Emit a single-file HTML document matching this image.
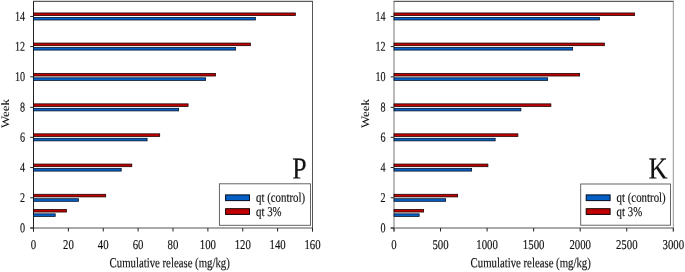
<!DOCTYPE html>
<html><head><meta charset="utf-8"><title>Cumulative release</title>
<style>
html,body{margin:0;padding:0;background:#fff;}
body{width:685px;height:272px;overflow:hidden;}
svg{display:block;will-change:transform;}
text{font-family:"Liberation Serif",serif;text-rendering:geometricPrecision;fill:#111;stroke:#111;stroke-width:0.16px;}
</style></head><body>
<svg width="685" height="272" viewBox="0 0 685 272">
<rect x="0" y="0" width="685" height="272" fill="#fff"/>
<line x1="33.0" y1="1.3" x2="313.0" y2="1.3" stroke="#333" stroke-width="1"/>
<line x1="30.2" y1="228.0" x2="313.0" y2="228.0" stroke="#555" stroke-width="1"/>
<line x1="312.5" y1="1.3" x2="312.5" y2="231.5" stroke="#444" stroke-width="0.9"/>
<line x1="33.5" y1="1.3" x2="33.5" y2="231.5" stroke="#222" stroke-width="1"/>
<line x1="30.2" y1="228.00" x2="33.5" y2="228.00" stroke="#222" stroke-width="1"/>
<text transform="translate(25.0,232.25) scale(0.755,1) skewY(0.05)" text-anchor="end" font-size="13.4">0</text>
<line x1="30.2" y1="197.77" x2="33.5" y2="197.77" stroke="#222" stroke-width="1"/>
<text transform="translate(25.0,202.02) scale(0.755,1) skewY(0.05)" text-anchor="end" font-size="13.4">2</text>
<line x1="30.2" y1="167.55" x2="33.5" y2="167.55" stroke="#222" stroke-width="1"/>
<text transform="translate(25.0,171.80) scale(0.755,1) skewY(0.05)" text-anchor="end" font-size="13.4">4</text>
<line x1="30.2" y1="137.32" x2="33.5" y2="137.32" stroke="#222" stroke-width="1"/>
<text transform="translate(25.0,141.57) scale(0.755,1) skewY(0.05)" text-anchor="end" font-size="13.4">6</text>
<line x1="30.2" y1="107.35" x2="33.5" y2="107.35" stroke="#222" stroke-width="1"/>
<text transform="translate(25.0,111.60) scale(0.755,1) skewY(0.05)" text-anchor="end" font-size="13.4">8</text>
<line x1="30.2" y1="76.87" x2="33.5" y2="76.87" stroke="#222" stroke-width="1"/>
<text transform="translate(25.0,81.12) scale(0.755,1) skewY(0.05)" text-anchor="end" font-size="13.4">10</text>
<line x1="30.2" y1="46.55" x2="33.5" y2="46.55" stroke="#222" stroke-width="1"/>
<text transform="translate(25.0,50.80) scale(0.755,1) skewY(0.05)" text-anchor="end" font-size="13.4">12</text>
<line x1="30.2" y1="16.45" x2="33.5" y2="16.45" stroke="#222" stroke-width="1"/>
<text transform="translate(25.0,20.70) scale(0.755,1) skewY(0.05)" text-anchor="end" font-size="13.4">14</text>
<line x1="33.50" y1="228.0" x2="33.50" y2="231.5" stroke="#222" stroke-width="1"/>
<text transform="translate(33.50,248.95) scale(0.8,1) skewY(0.05)" text-anchor="middle" font-size="13.5">0</text>
<line x1="68.38" y1="228.0" x2="68.38" y2="231.5" stroke="#222" stroke-width="1"/>
<text transform="translate(68.38,248.95) scale(0.8,1) skewY(0.05)" text-anchor="middle" font-size="13.5">20</text>
<line x1="103.25" y1="228.0" x2="103.25" y2="231.5" stroke="#222" stroke-width="1"/>
<text transform="translate(103.25,248.95) scale(0.8,1) skewY(0.05)" text-anchor="middle" font-size="13.5">40</text>
<line x1="138.12" y1="228.0" x2="138.12" y2="231.5" stroke="#222" stroke-width="1"/>
<text transform="translate(138.12,248.95) scale(0.8,1) skewY(0.05)" text-anchor="middle" font-size="13.5">60</text>
<line x1="173.00" y1="228.0" x2="173.00" y2="231.5" stroke="#222" stroke-width="1"/>
<text transform="translate(173.00,248.95) scale(0.8,1) skewY(0.05)" text-anchor="middle" font-size="13.5">80</text>
<line x1="207.88" y1="228.0" x2="207.88" y2="231.5" stroke="#222" stroke-width="1"/>
<text transform="translate(207.88,248.95) scale(0.8,1) skewY(0.05)" text-anchor="middle" font-size="13.5">100</text>
<line x1="242.75" y1="228.0" x2="242.75" y2="231.5" stroke="#222" stroke-width="1"/>
<text transform="translate(242.75,248.95) scale(0.8,1) skewY(0.05)" text-anchor="middle" font-size="13.5">120</text>
<line x1="277.62" y1="228.0" x2="277.62" y2="231.5" stroke="#222" stroke-width="1"/>
<text transform="translate(277.62,248.95) scale(0.8,1) skewY(0.05)" text-anchor="middle" font-size="13.5">140</text>
<line x1="312.50" y1="228.0" x2="312.50" y2="231.5" stroke="#222" stroke-width="1"/>
<text transform="translate(312.50,248.95) scale(0.8,1) skewY(0.05)" text-anchor="middle" font-size="13.5">160</text>
<rect x="33.5" y="209.39" width="33.00" height="2.65" fill="#c00000" stroke="#140000" stroke-width="0.75"/>
<rect x="33.5" y="213.84" width="21.70" height="2.6" fill="#0460c4" stroke="#000c20" stroke-width="0.75"/>
<rect x="33.5" y="194.27" width="72.20" height="2.65" fill="#c00000" stroke="#140000" stroke-width="0.75"/>
<rect x="33.5" y="198.72" width="45.00" height="2.6" fill="#0460c4" stroke="#000c20" stroke-width="0.75"/>
<rect x="33.5" y="164.05" width="98.30" height="2.65" fill="#c00000" stroke="#140000" stroke-width="0.75"/>
<rect x="33.5" y="168.50" width="87.70" height="2.6" fill="#0460c4" stroke="#000c20" stroke-width="0.75"/>
<rect x="33.5" y="133.82" width="126.20" height="2.65" fill="#c00000" stroke="#140000" stroke-width="0.75"/>
<rect x="33.5" y="138.27" width="113.60" height="2.6" fill="#0460c4" stroke="#000c20" stroke-width="0.75"/>
<rect x="33.5" y="103.85" width="154.60" height="2.65" fill="#c00000" stroke="#140000" stroke-width="0.75"/>
<rect x="33.5" y="108.30" width="145.15" height="2.6" fill="#0460c4" stroke="#000c20" stroke-width="0.75"/>
<rect x="33.5" y="73.37" width="182.10" height="2.65" fill="#c00000" stroke="#140000" stroke-width="0.75"/>
<rect x="33.5" y="77.82" width="172.15" height="2.6" fill="#0460c4" stroke="#000c20" stroke-width="0.75"/>
<rect x="33.5" y="43.05" width="216.90" height="2.65" fill="#c00000" stroke="#140000" stroke-width="0.75"/>
<rect x="33.5" y="47.50" width="202.15" height="2.6" fill="#0460c4" stroke="#000c20" stroke-width="0.75"/>
<rect x="33.5" y="12.95" width="261.90" height="2.65" fill="#c00000" stroke="#140000" stroke-width="0.75"/>
<rect x="33.5" y="17.40" width="221.90" height="2.6" fill="#0460c4" stroke="#000c20" stroke-width="0.75"/>
<line x1="393.5" y1="1.3" x2="673.8" y2="1.3" stroke="#333" stroke-width="1"/>
<line x1="390.7" y1="228.0" x2="673.8" y2="228.0" stroke="#555" stroke-width="1"/>
<line x1="673.3" y1="1.3" x2="673.3" y2="231.5" stroke="#888" stroke-width="0.9"/>
<line x1="394.0" y1="1.3" x2="394.0" y2="231.5" stroke="#777" stroke-width="1"/>
<line x1="390.7" y1="228.00" x2="394.0" y2="228.00" stroke="#222" stroke-width="1"/>
<text transform="translate(385.5,232.25) scale(0.755,1) skewY(0.05)" text-anchor="end" font-size="13.4">0</text>
<line x1="390.7" y1="197.77" x2="394.0" y2="197.77" stroke="#222" stroke-width="1"/>
<text transform="translate(385.5,202.02) scale(0.755,1) skewY(0.05)" text-anchor="end" font-size="13.4">2</text>
<line x1="390.7" y1="167.55" x2="394.0" y2="167.55" stroke="#222" stroke-width="1"/>
<text transform="translate(385.5,171.80) scale(0.755,1) skewY(0.05)" text-anchor="end" font-size="13.4">4</text>
<line x1="390.7" y1="137.32" x2="394.0" y2="137.32" stroke="#222" stroke-width="1"/>
<text transform="translate(385.5,141.57) scale(0.755,1) skewY(0.05)" text-anchor="end" font-size="13.4">6</text>
<line x1="390.7" y1="107.35" x2="394.0" y2="107.35" stroke="#222" stroke-width="1"/>
<text transform="translate(385.5,111.60) scale(0.755,1) skewY(0.05)" text-anchor="end" font-size="13.4">8</text>
<line x1="390.7" y1="76.87" x2="394.0" y2="76.87" stroke="#222" stroke-width="1"/>
<text transform="translate(385.5,81.12) scale(0.755,1) skewY(0.05)" text-anchor="end" font-size="13.4">10</text>
<line x1="390.7" y1="46.55" x2="394.0" y2="46.55" stroke="#222" stroke-width="1"/>
<text transform="translate(385.5,50.80) scale(0.755,1) skewY(0.05)" text-anchor="end" font-size="13.4">12</text>
<line x1="390.7" y1="16.45" x2="394.0" y2="16.45" stroke="#222" stroke-width="1"/>
<text transform="translate(385.5,20.70) scale(0.755,1) skewY(0.05)" text-anchor="end" font-size="13.4">14</text>
<line x1="394.00" y1="228.0" x2="394.00" y2="231.5" stroke="#222" stroke-width="1"/>
<text transform="translate(394.00,248.95) scale(0.8,1) skewY(0.05)" text-anchor="middle" font-size="13.5">0</text>
<line x1="440.55" y1="228.0" x2="440.55" y2="231.5" stroke="#222" stroke-width="1"/>
<text transform="translate(440.55,248.95) scale(0.8,1) skewY(0.05)" text-anchor="middle" font-size="13.5">500</text>
<line x1="487.10" y1="228.0" x2="487.10" y2="231.5" stroke="#222" stroke-width="1"/>
<text transform="translate(487.10,248.95) scale(0.8,1) skewY(0.05)" text-anchor="middle" font-size="13.5">1000</text>
<line x1="533.65" y1="228.0" x2="533.65" y2="231.5" stroke="#222" stroke-width="1"/>
<text transform="translate(533.65,248.95) scale(0.8,1) skewY(0.05)" text-anchor="middle" font-size="13.5">1500</text>
<line x1="580.20" y1="228.0" x2="580.20" y2="231.5" stroke="#222" stroke-width="1"/>
<text transform="translate(580.20,248.95) scale(0.8,1) skewY(0.05)" text-anchor="middle" font-size="13.5">2000</text>
<line x1="626.75" y1="228.0" x2="626.75" y2="231.5" stroke="#222" stroke-width="1"/>
<text transform="translate(626.75,248.95) scale(0.8,1) skewY(0.05)" text-anchor="middle" font-size="13.5">2500</text>
<line x1="673.30" y1="228.0" x2="673.30" y2="231.5" stroke="#222" stroke-width="1"/>
<text transform="translate(673.30,248.95) scale(0.8,1) skewY(0.05)" text-anchor="middle" font-size="13.5">3000</text>
<rect x="394.0" y="209.39" width="29.65" height="2.65" fill="#c00000" stroke="#140000" stroke-width="0.75"/>
<rect x="394.0" y="213.84" width="25.15" height="2.6" fill="#0460c4" stroke="#000c20" stroke-width="0.75"/>
<rect x="394.0" y="194.27" width="63.65" height="2.65" fill="#c00000" stroke="#140000" stroke-width="0.75"/>
<rect x="394.0" y="198.72" width="51.65" height="2.6" fill="#0460c4" stroke="#000c20" stroke-width="0.75"/>
<rect x="394.0" y="164.05" width="93.90" height="2.65" fill="#c00000" stroke="#140000" stroke-width="0.75"/>
<rect x="394.0" y="168.50" width="77.65" height="2.6" fill="#0460c4" stroke="#000c20" stroke-width="0.75"/>
<rect x="394.0" y="133.82" width="123.90" height="2.65" fill="#c00000" stroke="#140000" stroke-width="0.75"/>
<rect x="394.0" y="138.27" width="101.15" height="2.6" fill="#0460c4" stroke="#000c20" stroke-width="0.75"/>
<rect x="394.0" y="103.85" width="156.90" height="2.65" fill="#c00000" stroke="#140000" stroke-width="0.75"/>
<rect x="394.0" y="108.30" width="126.90" height="2.6" fill="#0460c4" stroke="#000c20" stroke-width="0.75"/>
<rect x="394.0" y="73.37" width="185.65" height="2.65" fill="#c00000" stroke="#140000" stroke-width="0.75"/>
<rect x="394.0" y="77.82" width="153.65" height="2.6" fill="#0460c4" stroke="#000c20" stroke-width="0.75"/>
<rect x="394.0" y="43.05" width="210.40" height="2.65" fill="#c00000" stroke="#140000" stroke-width="0.75"/>
<rect x="394.0" y="47.50" width="178.65" height="2.6" fill="#0460c4" stroke="#000c20" stroke-width="0.75"/>
<rect x="394.0" y="12.95" width="240.65" height="2.65" fill="#c00000" stroke="#140000" stroke-width="0.75"/>
<rect x="394.0" y="17.40" width="205.40" height="2.6" fill="#0460c4" stroke="#000c20" stroke-width="0.75"/>
<rect x="219.4" y="183.8" width="91.10" height="41.50" fill="#fff" stroke="#555" stroke-width="0.9"/>
<rect x="225.6" y="194.9" width="23.9" height="5.7" fill="#0460c4" stroke="#000a1c" stroke-width="1"/>
<rect x="225.6" y="208.70000000000002" width="23.9" height="5.7" fill="#c00000" stroke="#140000" stroke-width="1"/>
<text transform="translate(256.0,201.65) scale(0.81,1) skewY(0.05)" font-size="13.4">qt (control)</text>
<text transform="translate(256.0,215.9) scale(0.81,1) skewY(0.05)" font-size="13.4">qt 3%</text>
<rect x="580.7" y="184.0" width="89.80" height="41.20" fill="#fff" stroke="#555" stroke-width="0.9"/>
<rect x="586.2" y="194.9" width="23.9" height="5.7" fill="#0460c4" stroke="#000a1c" stroke-width="1"/>
<rect x="586.2" y="208.70000000000002" width="23.9" height="5.7" fill="#c00000" stroke="#140000" stroke-width="1"/>
<text transform="translate(616.6,201.65) scale(0.81,1) skewY(0.05)" font-size="13.4">qt (control)</text>
<text transform="translate(616.6,215.9) scale(0.81,1) skewY(0.05)" font-size="13.4">qt 3%</text>
<text transform="translate(292.3,178.5) scale(0.851,1) skewY(0.05)" font-size="30.4">P</text>
<text transform="translate(648.6,178.5) scale(0.87,1) skewY(0.05)" font-size="30.4">K</text>
<text transform="translate(169.7,267.3) scale(0.781,1) skewY(0.05)" text-anchor="middle" font-size="13.8">Cumulative release (mg/kg)</text>
<text transform="translate(530.7,267.3) scale(0.781,1) skewY(0.05)" text-anchor="middle" font-size="13.8">Cumulative release (mg/kg)</text>
<text transform="translate(8.8,113.6) scale(0.88,1) rotate(-90)" text-anchor="middle" font-size="12.9" style="stroke-width:0.04px">Week</text>
<text transform="translate(369.2,113.6) scale(0.88,1) rotate(-90)" text-anchor="middle" font-size="12.9" style="stroke-width:0.04px">Week</text>
</svg>
</body></html>
